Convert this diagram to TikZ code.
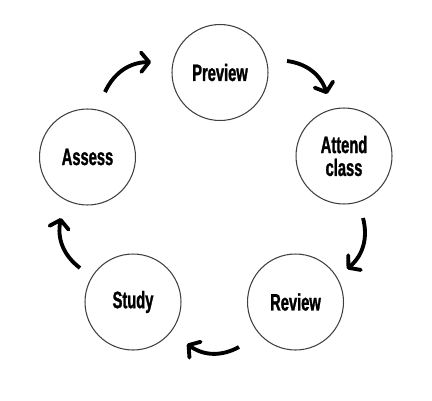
\documentclass[tikz,border=0pt]{standalone}
\usepackage{fontspec}
\setmainfont{Liberation Sans}[FakeStretch=0.62,FakeBold=1.2]
\usetikzlibrary{arrows.meta}
\begin{document}
\begin{tikzpicture}[x=0.02cm,y=0.02cm,font=\fontsize{13.5}{13}\selectfont\bfseries]
    \tikzstyle{step node}=[circle,draw=black!75,line width=0.6pt,minimum size=1.92cm,inner sep=0,align=center]
    \tikzstyle{cycle arrow}=[line width=2.2pt,-{Straight Barb[length=4.5pt,width=11pt,round]},bend left=32]
    \useasboundingbox (0,0) rectangle (432,400);

    \node(0)[step node] at (220,327.5){Preview};
    \node(1)[step node] at (344,244){Attend\\class};
    \node(2)[step node] at (295.5,98){Review};
    \node(3)[step node] at (133,98){Study};
    \node(4)[step node] at (87.5,243){Assess};

    % arrow ends between the circles
    \coordinate(s0) at (105,308);  \coordinate(e0) at (151,338);
    \coordinate(s1) at (287,339);  \coordinate(e1) at (327,306);
    \coordinate(s2) at (363,182);  \coordinate(e2) at (347,131);
    \coordinate(s3) at (239,53);   \coordinate(e3) at (187,56);
    \coordinate(s4) at (80,132);   \coordinate(e4) at (61,182);

    \foreach \i in {0,...,4}
        \draw[cycle arrow](s\i) to (e\i);
\end{tikzpicture}
\end{document}
